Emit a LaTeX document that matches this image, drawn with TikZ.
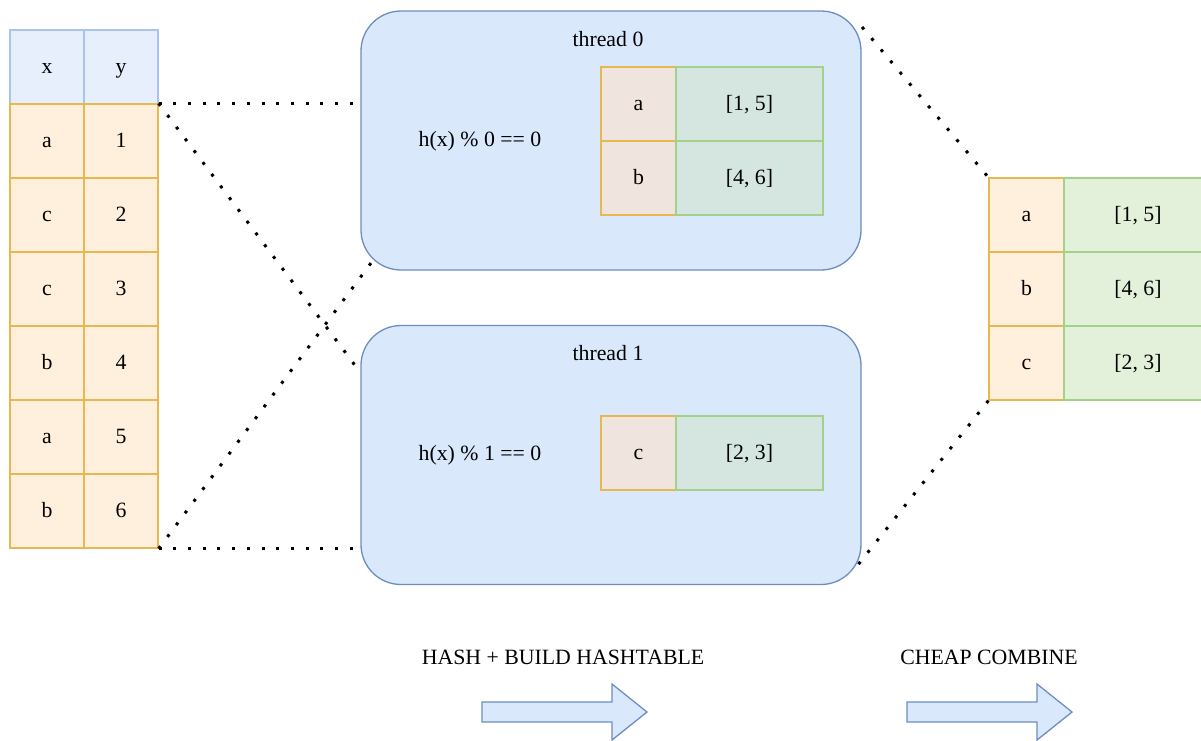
\documentclass[tikz,border=0pt]{standalone}
\usepackage{fontspec}
\setmainfont{Liberation Serif}

\definecolor{hdrfill}{HTML}{E7EFFC}
\definecolor{hdrline}{HTML}{A9C4EB}
\definecolor{keyfill}{HTML}{FFEFDD}
\definecolor{keyline}{HTML}{E6B84F}
\definecolor{valfill}{HTML}{E3F0DA}
\definecolor{valline}{HTML}{A3D18A}
\definecolor{boxfill}{HTML}{DAE8FC}
\definecolor{boxline}{HTML}{6C8EBF}
\definecolor{ikeyfill}{HTML}{F0E5DE}
\definecolor{ivalfill}{HTML}{D5E6E1}

\begin{document}
\begin{tikzpicture}[x=1pt,y=-1pt,
  txt/.style={font=\fontsize{21.8}{25}\selectfont, text height=16pt, text depth=4pt},
  cell/.style={rectangle, draw, inner sep=0pt, line width=1.3pt,
               minimum height=74pt, txt},
  hdrcell/.style={cell, fill=hdrfill, draw=hdrline, minimum width=74pt},
  datacell/.style={cell, fill=keyfill, draw=keyline, minimum width=74pt},
  keycell/.style={cell, fill=ikeyfill, draw=keyline, minimum width=75pt},
  valcell/.style={cell, fill=ivalfill, draw=valline, minimum width=147pt},
  outkey/.style={cell, fill=keyfill, draw=keyline, minimum width=75pt},
  outval/.style={cell, fill=valfill, draw=valline, minimum width=148pt},
  threadbox/.style={rectangle, draw=boxline, fill=boxfill, line width=1.3pt,
                    rounded corners=40pt, minimum width=500pt,
                    minimum height=259pt, inner sep=0pt},
  link/.style={draw=black, line width=3pt, dash pattern=on 3pt off 11.7pt},
  blockarrow/.style={draw=boxline, fill=boxfill, line width=1.3pt, line join=miter}
]
\clip (0,0) rectangle (1201,740);

% input table
\node[hdrcell] (hx) at (47,67) {x};
\node[hdrcell] (hy) at (121,67) {y};
\foreach \k/\v/\i in {a/1/1, c/2/2, c/3/3, b/4/4, a/5/5, b/6/6} {
  \node[datacell] (r\i x) at (47,67+74*\i) {\k};
  \node[datacell] (r\i y) at (121,67+74*\i) {\v};
}

% thread 0
\node[threadbox] (t0) at (611,140.5) {};
\node[txt] (t0title) at (608,40) {thread 0};
\node[txt] (t0rule) at (480,140) {h(x) \% 0 == 0};
\node[keycell] (t0ka) at (638.5,104) {a};
\node[valcell] (t0va) at (749.5,104) {[1, 5]};
\node[keycell] (t0kb) at (638.5,178) {b};
\node[valcell] (t0vb) at (749.5,178) {[4, 6]};

% thread 1
\node[threadbox] (t1) at (611,455) {};
\node[txt] (t1title) at (608,354) {thread 1};
\node[txt] (t1rule) at (480,454) {h(x) \% 1 == 0};
\node[keycell] (t1kc) at (638.5,453) {c};
\node[valcell] (t1vc) at (749.5,453) {[2, 3]};

% combined result
\node[outkey] (oka) at (1026.5,215) {a};
\node[outval] (ova) at (1138,215) {[1, 5]};
\node[outkey] (okb) at (1026.5,289) {b};
\node[outval] (ovb) at (1138,289) {[4, 6]};
\node[outkey] (okc) at (1026.5,363) {c};
\node[outval] (ovc) at (1138,363) {[2, 3]};

% dotted links
\coordinate (t1in) at (357,368);
\coordinate (t0in) at (374,259);
\coordinate (t0out) at (862,27);
\coordinate (t1out) at (857,566);
\draw[link] (r1y.north east) -- (r1y.north east -| t0.west);
\draw[link] (r1y.north east) -- (t1in);
\draw[link] (r6y.south east) -- (t0in);
\draw[link] (r6y.south east) -- (r6y.south east -| t1.west);
\draw[link] (t0out) -- (oka.north west);
\draw[link] (okc.south west) -- (t1out);

% stage labels and arrows
\node[txt] (stage1) at (563,658) {HASH + BUILD HASHTABLE};
\node[txt] (stage2) at (989,658) {CHEAP COMBINE};
\draw[blockarrow] (482,702) -- (612,702) -- (612,684) -- (647,712) -- (612,740)
  -- (612,722) -- (482,722) -- cycle;
\draw[blockarrow] (907,702) -- (1037,702) -- (1037,684) -- (1072,712) -- (1037,740)
  -- (1037,722) -- (907,722) -- cycle;
\end{tikzpicture}
\end{document}
